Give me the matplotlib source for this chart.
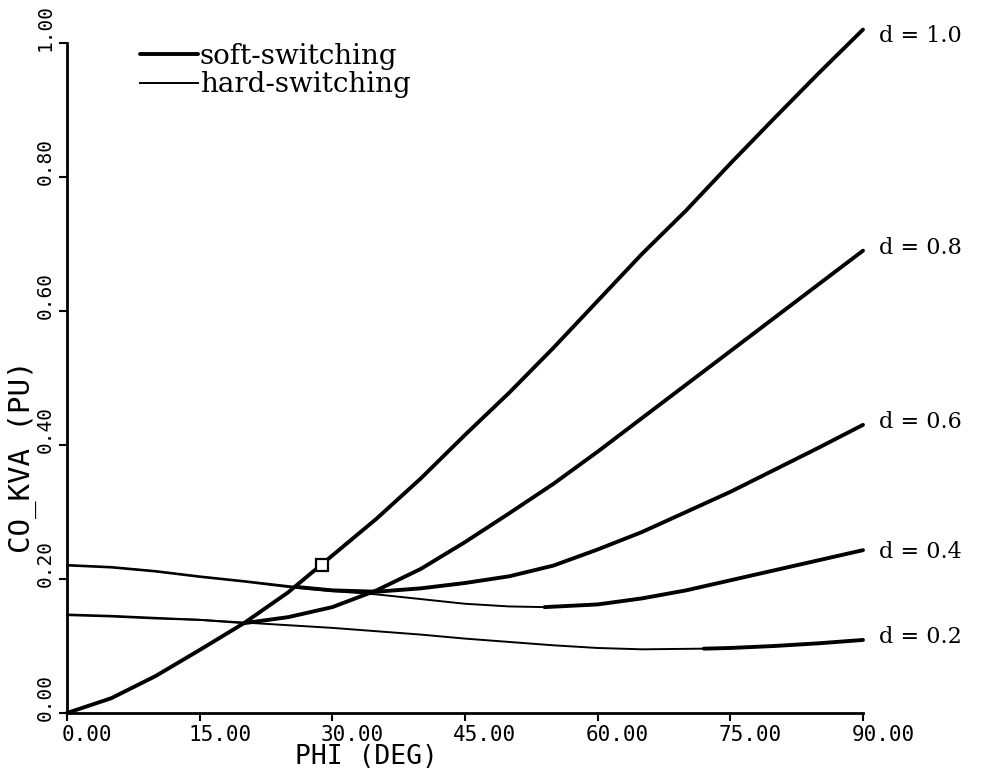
import matplotlib
matplotlib.use('Agg')
import matplotlib.pyplot as plt
import matplotlib.transforms as mtransforms

# 数据  PHI (DEG) - CO_KVA (PU)
# d = 1.0 全程 soft-switching
d10_phi = [0, 5, 10, 15, 20, 25, 30, 35, 40, 45, 50, 55, 60, 65, 70, 75, 80, 85, 90]
d10_soft = [0.000, 0.022, 0.055, 0.094, 0.134, 0.180, 0.235, 0.290, 0.350, 0.415,
            0.478, 0.545, 0.615, 0.685, 0.750, 0.820, 0.888, 0.955, 1.020]

# d = 0.8
d08_hard_phi = [0, 5, 10, 15, 20]
d08_hard = [0.147, 0.145, 0.142, 0.139, 0.134]
d08_soft_phi = [20, 25, 30, 35, 40, 45, 50, 55, 60, 65, 70, 75, 80, 85, 90]
d08_soft = [0.134, 0.143, 0.158, 0.183, 0.215, 0.255, 0.298, 0.342, 0.390,
            0.440, 0.490, 0.540, 0.590, 0.640, 0.690]

# d = 0.6
d06_hard_phi = [0, 5, 10, 15, 20, 26]
d06_hard = [0.221, 0.218, 0.212, 0.204, 0.197, 0.188]
d06_soft_phi = [26, 30, 35, 40, 45, 50, 55, 60, 65, 70, 75, 80, 85, 90]
d06_soft = [0.188, 0.183, 0.181, 0.186, 0.194, 0.204, 0.220, 0.244, 0.270,
            0.300, 0.330, 0.363, 0.396, 0.430]

# d = 0.4
d04_hard_phi = [0, 5, 10, 15, 20, 25, 30, 35, 40, 45, 50, 54]
d04_hard = [0.220, 0.217, 0.211, 0.203, 0.196, 0.188, 0.182, 0.177, 0.170, 0.163, 0.159, 0.158]
d04_soft_phi = [54, 60, 65, 70, 75, 80, 85, 90]
d04_soft = [0.158, 0.162, 0.171, 0.183, 0.198, 0.213, 0.228, 0.243]

# d = 0.2
d02_hard_phi = [0, 5, 10, 15, 20, 25, 30, 35, 40, 45, 50, 55, 60, 65, 72]
d02_hard = [0.146, 0.144, 0.141, 0.139, 0.135, 0.131, 0.127, 0.122, 0.117,
            0.111, 0.106, 0.101, 0.097, 0.095, 0.096]
d02_soft_phi = [72, 75, 80, 85, 90]
d02_soft = [0.096, 0.097, 0.100, 0.104, 0.109]

# 曲线标注
d_labels = ['d = 1.0', 'd = 0.8', 'd = 0.6', 'd = 0.4', 'd = 0.2']
d_label_y = [1.010, 0.694, 0.434, 0.240, 0.113]

# 方框标记点
mark_phi = [28.8]
mark_kva = [0.221]

x_ticks = [0, 15, 30, 45, 60, 75, 90]
x_ticklabels = ['0.00', '15.00', '30.00', '45.00', '60.00', '75.00', '90.00']
y_ticks = [0.0, 0.2, 0.4, 0.6, 0.8, 1.0]
y_ticklabels = ['0.00', '0.20', '0.40', '0.60', '0.80', '1.00']

lw_soft = 2.8
lw_hard = 1.4

fig = plt.figure(figsize=(9.81, 7.77), dpi=100)
ax = fig.add_axes([0.0683, 0.0824, 0.8114, 0.8623])

# 画图
soft_line, = ax.plot(d10_phi, d10_soft, color='black', lw=lw_soft, clip_on=False, solid_capstyle='round')
for ph, kv in [(d08_hard_phi, d08_hard), (d06_hard_phi, d06_hard),
               (d04_hard_phi, d04_hard), (d02_hard_phi, d02_hard)]:
    hard_line, = ax.plot(ph, kv, color='black', lw=lw_hard, clip_on=False)
for ph, kv in [(d08_soft_phi, d08_soft), (d06_soft_phi, d06_soft),
               (d04_soft_phi, d04_soft), (d02_soft_phi, d02_soft)]:
    ax.plot(ph, kv, color='black', lw=lw_soft, clip_on=False, solid_capstyle='round')

ax.plot(mark_phi, mark_kva, marker='s', ms=8, mfc='white', mec='black', mew=1.6, ls='none')

# 曲线标注
for txt, yy in zip(d_labels, d_label_y):
    ax.text(91.8, yy, txt, family='DejaVu Serif', fontsize=16, va='center', ha='left', clip_on=False)

# 坐标轴
ax.set_xlim(0, 90)
ax.set_ylim(0, 1.0)
for s in ['top', 'right']:
    ax.spines[s].set_visible(False)
for s in ['left', 'bottom']:
    ax.spines[s].set_linewidth(2.0)
ax.tick_params(direction='out', length=6, width=1.5, pad=3)

ax.set_xticks(x_ticks)
ax.set_xticklabels(x_ticklabels, family='DejaVu Sans Mono', fontsize=15, ha='center')
ax.set_yticks(y_ticks)
ax.set_yticklabels(y_ticklabels, family='DejaVu Sans Mono', fontsize=14, rotation=90,
                   va='center', ha='right')

# 刻度标签偏移 (原图标签不居中)
dx = mtransforms.ScaledTranslation(20 / 100, 0, fig.dpi_scale_trans)
for lb in ax.get_xticklabels():
    lb.set_transform(lb.get_transform() + dx)
dy = mtransforms.ScaledTranslation(0, 15 / 100, fig.dpi_scale_trans)
for lb in ax.get_yticklabels():
    lb.set_transform(lb.get_transform() + dy)

ax.set_xlabel('PHI (DEG)', family='DejaVu Sans Mono', fontsize=19)
ax.xaxis.set_label_coords(0.376, -0.047)
ax.set_ylabel('CO_KVA (PU)', family='DejaVu Sans Mono', fontsize=21)
ax.yaxis.set_label_coords(-0.038, 0.382)

# 图例
ax.legend([soft_line, hard_line], ['soft-switching', 'hard-switching'],
          loc='upper left', bbox_to_anchor=(0.0917, 1.0), frameon=False,
          prop={'family': 'DejaVu Serif', 'size': 20}, handlelength=2.1,
          handletextpad=0.05, labelspacing=0.05, borderpad=0, borderaxespad=0)

plt.savefig('out.png', dpi=100)
plt.close()
